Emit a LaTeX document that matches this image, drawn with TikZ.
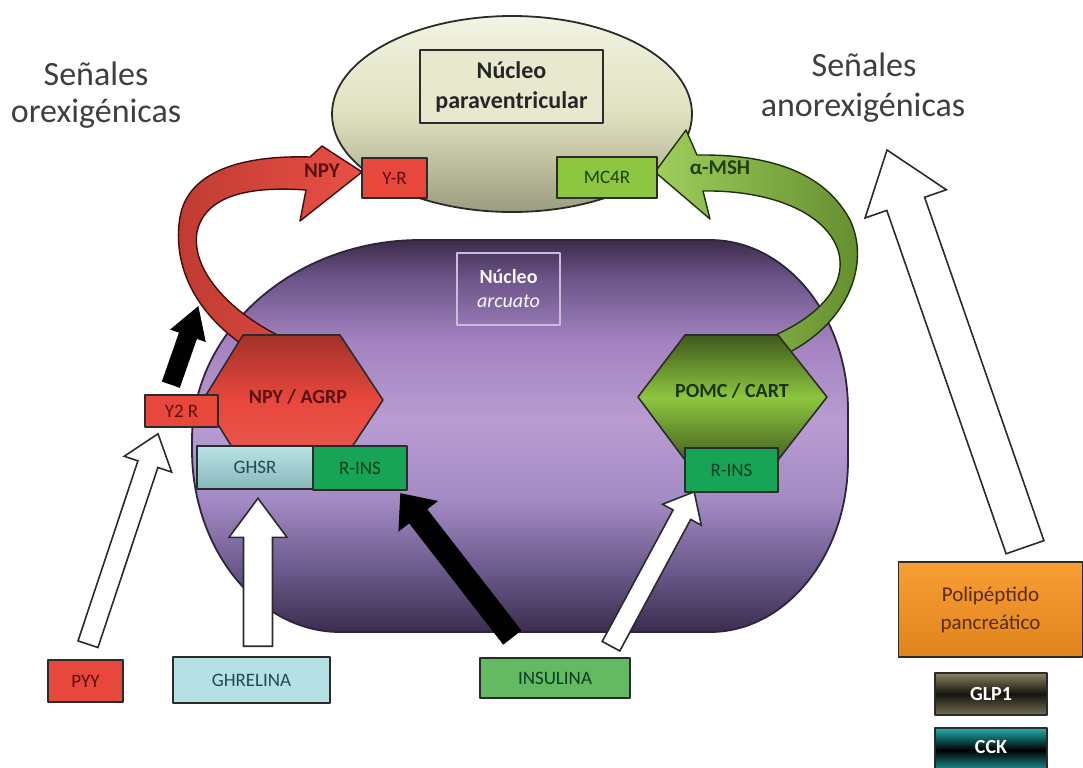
\documentclass[tikz,border=0pt]{standalone}
\usepackage{fontspec}
\setmainfont{Carlito}
\usetikzlibrary{calc,shapes.geometric}

\definecolor{titlegray}{HTML}{3F3F3F}
\definecolor{edge}{HTML}{2B2B2B}
\definecolor{redfill}{HTML}{E8473C}
\definecolor{redtext}{HTML}{5A1210}
\definecolor{limefill}{HTML}{8DC63F}
\definecolor{limetext}{HTML}{22400E}
\definecolor{insfill}{HTML}{17A456}
\definecolor{instext}{HTML}{0B3D22}
\definecolor{cyanfill}{HTML}{9ED7DB}
\definecolor{cyantext}{HTML}{1E4C52}
\definecolor{ghrfill}{HTML}{B5E1E4}
\definecolor{insulfill}{HTML}{63BA63}
\definecolor{orangefill}{HTML}{F7931E}
\definecolor{browntext}{HTML}{5A2C08}
\definecolor{pvtop}{HTML}{F2F3E3}
\definecolor{pvmid}{HTML}{DFE1BE}
\definecolor{pvbot}{HTML}{9C9D80}
\definecolor{arcA}{HTML}{3B2D4F}
\definecolor{arcB}{HTML}{6B5A8C}
\definecolor{arcC}{HTML}{A48BC4}
\definecolor{arcD}{HTML}{B99CD2}
\definecolor{arcE}{HTML}{A383C0}
\definecolor{arcF}{HTML}{6D5589}
\definecolor{arcG}{HTML}{3C2B4C}
\definecolor{glpedge}{HTML}{8A8462}
\definecolor{glpmid}{HTML}{15140C}
\definecolor{cckedge}{HTML}{22B3B1}

% vertical shading of the arcuate nucleus (path spans 25bp..75bp)
\pgfdeclareverticalshading{arcshade}{100bp}{color(0bp)=(arcA); color(25bp)=(arcA);
  color(33bp)=(arcB); color(42bp)=(arcC); color(52bp)=(arcD); color(62bp)=(arcE);
  color(70bp)=(arcF); color(75bp)=(arcG); color(100bp)=(arcG)}

\tikzset{
  title/.style={anchor=base, text=titlegray, font=\fontsize{17}{20}\selectfont},
  cell/.style={draw=edge, line width=0.8pt, inner sep=0pt, align=center,
    font=\fontsize{9.5}{11}\selectfont},
  hexlabel/.style={font=\bfseries\fontsize{10}{12}\selectfont, inner sep=0pt},
  hollow/.style={draw=edge, fill=white, line width=0.8pt, line join=miter},
  solidarrow/.style={draw=black, fill=black, line width=0.5pt, line join=miter},
}

% block arrow: #1 style, #2 tail, #3 tip, #4 shaft half width, #5 head half width, #6 head length
\newcommand\sigarrow[6]{%
  \coordinate (sa-h) at ($(#3)!#6!(#2)$);
  \draw[#1] ($(#2)!#4!90:(#3)$) -- ($(sa-h)!#4!90:(#3)$) -- ($(sa-h)!#5!90:(#3)$)
    -- (#3) -- ($(sa-h)!#5!-90:(#3)$) -- ($(sa-h)!#4!-90:(#3)$)
    -- ($(#2)!#4!-90:(#3)$) -- cycle;}

\begin{document}
\begin{tikzpicture}[x=0.5pt,y=-0.5pt,line join=round]
\useasboundingbox (0,0) rectangle (1083,767);
\fill[white] (0,0) rectangle (1083,767);

% headings
\node[title] (orexA) at (96,85) {Señales};
\node[title] (orexB) at (96,122) {orexigénicas};
\node[title] (anorA) at (864,76) {Señales};
\node[title] (anorB) at (863,116) {anorexigénicas};

% paraventricular nucleus
\node[ellipse, draw=edge, line width=0.9pt, minimum width=180pt, minimum height=98pt,
  inner sep=0pt, top color=pvtop, bottom color=pvbot, middle color=pvmid] (pv) at (512,114) {};
\node[cell, line width=1pt, minimum width=91.5pt, minimum height=36.5pt, fill=pvmid!60!pvtop,
  font=\bfseries\fontsize{12}{15}\selectfont, text=black!85] (pvbox) at (511.5,86.5)
  {Núcleo\\paraventricular};

% arcuate nucleus
\shade[shading=arcshade, draw=arcA!80!black, line width=0.9pt]
  (420,240) -- (710,240) .. controls (786,240) and (848,316) .. (848,410)
  -- (848,460) .. controls (848,555) and (786,632) .. (710,632)
  -- (340,632) .. controls (259,632) and (192,550) .. (192,450)
  -- (192,440) .. controls (192,330) and (295,240) .. (420,240) -- cycle;
\node[draw=arcD!70!white, line width=1pt, minimum width=51.5pt, minimum height=36pt,
  inner sep=0pt, align=center, text=white!92!arcD, font=\fontsize{10}{12}\selectfont]
  (arcbox) at (508.5,289) {\textbf{Núcleo}\\\textit{arcuato}};

% NPY ribbon towards Y-R
\draw[left color=redfill!82!black, right color=redfill!95!white, draw=redtext!70!black, line width=0.7pt]
  (243,345) .. controls (195,312) and (172,265) .. (180,217)
  .. controls (188,172) and (240,155) .. (310,157) -- (322,146) -- (362,172) -- (300,221)
  -- (306,190) .. controls (250,186) and (205,195) .. (197,232)
  .. controls (190,275) and (240,322) .. (300,345) -- cycle;
\node[hexlabel, font=\bfseries\fontsize{10.5}{12}\selectfont, text=redtext] (npylab) at (322,171) {NPY};

% alpha-MSH ribbon towards MC4R
\draw[left color=limefill!85!white, right color=limefill!70!black, draw=limetext!80!black, line width=0.7pt]
  (790,352) .. controls (850,320) and (870,262) .. (850,220)
  .. controls (826,175) and (775,154) .. (697,155) -- (686,130) -- (655,172) -- (710,219)
  -- (703,191) .. controls (770,190) and (825,212) .. (838,250)
  .. controls (850,290) and (810,325) .. (750,345) -- cycle;
\node[hexlabel, font=\bfseries\fontsize{10.5}{12}\selectfont, text=limetext] (msh) at (720,168) {α-MSH};

% receptors on the paraventricular nucleus
\node[cell, fill=redfill, text=redtext, minimum width=32.5pt, minimum height=20pt] (yr) at (394.5,178) {Y-R};
\node[cell, fill=limefill, text=limetext, minimum width=50pt, minimum height=20.5pt] (mc4r) at (607,177.5) {MC4R};

% neuron populations
\shade[top color=redfill!70!black, bottom color=redfill!90!white, middle color=redfill, draw=edge, line width=0.8pt]
  (243,335) -- (340,335) -- (383,400) -- (340,465) -- (243,465) -- (203,400) -- cycle;
\node[hexlabel, text=redtext] (npyagrp) at (298,397) {NPY / AGRP};
\shade[top color=limefill!45!black, bottom color=limefill!50!black, middle color=limefill, draw=edge, line width=0.8pt]
  (685,335) -- (778,335) -- (827,397) -- (778,460) -- (685,460) -- (638,397) -- cycle;
\node[hexlabel, text=limetext!80!black] (pomc) at (732,391) {POMC / CART};

% receptors in the arcuate nucleus
\node[cell, fill=redfill, text=redtext, minimum width=36.5pt, minimum height=16pt] (y2r) at (181.5,411) {Y2 R};
\node[cell, top color=cyanfill!70!white, bottom color=cyanfill!85!black, text=cyantext,
  minimum width=58pt, minimum height=21.5pt] (ghsr) at (255,467.5) {GHSR};
\node[cell, fill=insfill, text=instext, minimum width=47pt, minimum height=22pt] (rinsL) at (360,468) {R-INS};
\node[cell, fill=insfill, text=instext, minimum width=46.5pt, minimum height=22pt] (rinsR) at (731.5,470) {R-INS};

% peripheral signals
\node[cell, fill=redfill, text=redtext, minimum width=37.5pt, minimum height=21pt] (pyy) at (85.5,681) {PYY};
\node[cell, fill=ghrfill, text=cyantext, minimum width=78.5pt, minimum height=23pt] (ghrelina) at (251.5,680) {GHRELINA};
\node[cell, fill=insulfill, text=instext, minimum width=75pt, minimum height=20pt] (insulina) at (555,678) {INSULINA};
\node[cell, top color=orangefill!90!white, bottom color=orangefill!90!black, text=browntext,
  minimum width=92pt, minimum height=47.5pt, font=\fontsize{10.5}{14}\selectfont] (pp) at (990.5,609.5)
  {Polipéptido\\pancreático};
\node[cell, top color=glpedge, bottom color=glpedge!85!black, middle color=glpmid,
  text=white, font=\bfseries\fontsize{10}{12}\selectfont, minimum width=56pt, minimum height=21pt] (glp1) at (991,694) {GLP1};
\node[cell, top color=cckedge, bottom color=cckedge!90!black, middle color=black,
  text=white, font=\bfseries\fontsize{10}{12}\selectfont, minimum width=56pt, minimum height=22pt] (cck) at (991,750)
  {\raisebox{3pt}{CCK}};

% signal arrows
\coordinate (pyyT) at ($(pyy.north)+(2.5,-15)$);
\coordinate (pyyH) at ($(y2r.south)+(-23.5,6)$);
\coordinate (ghrT) at ($(ghrelina.north)+(6.5,-10)$);
\coordinate (ghrH) at ($(ghsr.south)+(3,8.5)$);
\coordinate (insT) at ($(insulina.north)+(-43,-20)$);
\coordinate (insH) at ($(rinsL.south east)+(-7,3)$);
\coordinate (ins2T) at ($(insulina.north)+(56,-11)$);
\coordinate (ins2H) at ($(rinsR.south west)+(10,-1)$);
\coordinate (npyT) at ($(y2r.north)+(-10.5,-10)$);
\coordinate (npyH) at (198,307);
\coordinate (ppT) at ($(pp.north)+(34.5,-14)$);
\coordinate (ppH) at (887,150);

\sigarrow{hollow}{pyyT}{pyyH}{5.25pt}{12.5pt}{16pt}
\sigarrow{hollow}{ghrT}{ghrH}{7.25pt}{14.5pt}{19.5pt}
\sigarrow{solidarrow}{insT}{insH}{5.5pt}{12pt}{14pt}
\sigarrow{hollow}{ins2T}{ins2H}{5pt}{11pt}{13pt}
\sigarrow{solidarrow}{npyT}{npyH}{4.5pt}{9pt}{15pt}
\sigarrow{hollow}{ppT}{ppH}{10pt}{21.5pt}{28.5pt}
\end{tikzpicture}
\end{document}
